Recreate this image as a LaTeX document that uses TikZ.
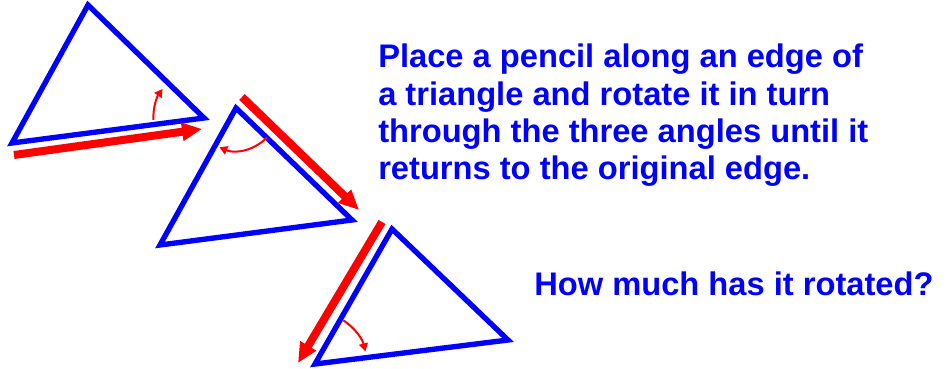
\documentclass[tikz,border=0pt]{standalone}
\usepackage{fontspec}
\setmainfont{Liberation Sans}
\usepackage{tikz}
\usetikzlibrary{arrows.meta,calc}

\begin{document}
\begin{tikzpicture}[x=0.75pt, y=-0.75pt,
  tri/.style={draw=blue, line width=4pt, line join=miter},
  pencil/.style={red, line width=6pt, -{Triangle[length=15pt, width=13pt]}},
  turn/.style={red, line width=1.5pt, -{Triangle[length=6pt, width=6.5pt]}},
  note/.style={blue, font=\fontsize{24.5}{28}\selectfont\bfseries, inner sep=0pt, align=left},
]
  \useasboundingbox (0,0) rectangle (949,368);

  % first position
  \coordinate (t1) at (88,5);
  \coordinate (l1) at (12,143);
  \coordinate (r1) at (204,118);
  \draw[tri] (t1) -- (l1) -- (r1) -- cycle;
  \coordinate (p1s) at (14,155);
  \coordinate (p1e) at (202,129);
  \draw[pencil] (p1s) -- (p1e);
  \draw[turn] ($(r1)+(182:38pt)$) arc[start angle=182, end angle=145, radius=38pt];

  % second position
  \coordinate (t2) at (236,108);
  \coordinate (l2) at (160,245);
  \coordinate (r2) at (352,220);
  \draw[tri] (t2) -- (l2) -- (r2) -- cycle;
  \coordinate (p2s) at (242,97);
  \coordinate (p2e) at (359,210);
  \draw[pencil] (p2s) -- (p2e);
  \draw[turn] ($(t2)+(-44:32pt)$) arc[start angle=-44, end angle=-113, radius=32pt];

  % third position
  \coordinate (t3) at (392,229);
  \coordinate (l3) at (315,364);
  \coordinate (r3) at (508,340);
  \draw[tri] (t3) -- (l3) -- (r3) -- cycle;
  \coordinate (p3s) at (382,222);
  \coordinate (p3e) at (298,363);
  \draw[pencil] (p3s) -- (p3e);
  \draw[turn] ($(l3)+(57:39pt)$) arc[start angle=57, end angle=14, radius=39pt];

  \node[note, anchor=north west] (task) at (378,44)
    {Place a pencil along an edge of\\a triangle and rotate it in turn\\through the three angles until it\\returns to the original edge.};
  \node[note, anchor=base west] (question) at (534,295) {How much has it rotated?};
\end{tikzpicture}
\end{document}
